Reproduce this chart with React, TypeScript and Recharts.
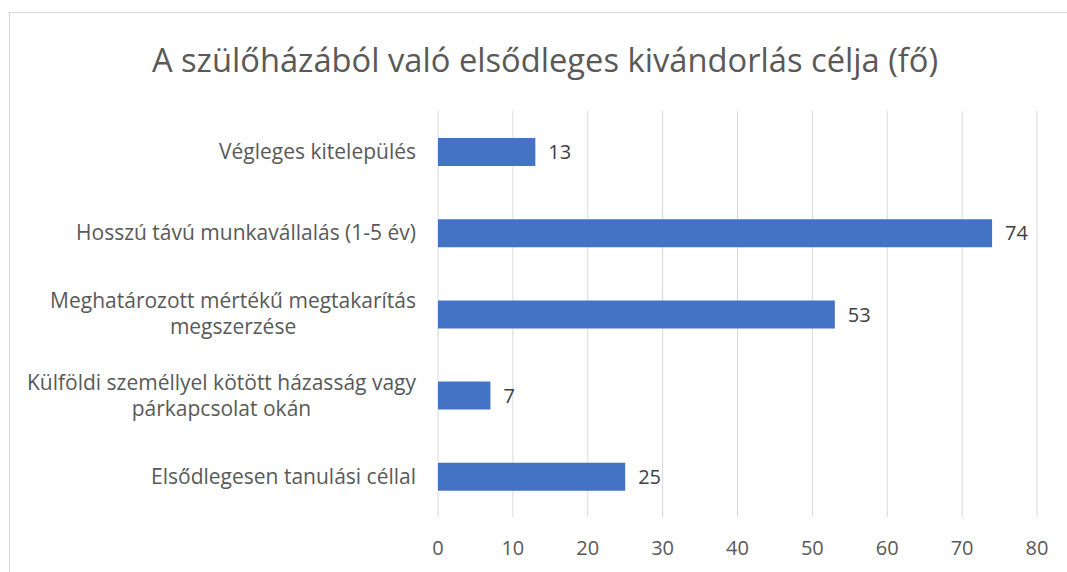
import React from "react"
import { BarChart, Bar, XAxis, YAxis, CartesianGrid, LabelList } from "recharts"

const categories = [
  "Végleges kitelepülés",
  "Hosszú távú munkavállalás (1-5 év)",
  "Meghatározott mértékű megtakarítás\nmegszerzése",
  "Külföldi személlyel kötött házasság vagy\npárkapcsolat okán",
  "Elsődlegesen tanulási céllal",
]
const values = [13, 74, 53, 7, 25]
const xTicks = [0, 10, 20, 30, 40, 50, 60, 70, 80]

const title = "A szülőházából való elsődleges kivándorlás célja (fő)"

const data = categories.map((name, i) => ({ name, value: values[i] }))

const FONT = "'Open Sans', sans-serif"
const LABEL_SIZE = 21
const NUM_SIZE = 20

let ctx: CanvasRenderingContext2D | null = null
function textWidth(s: string, size: number) {
  if (!ctx) ctx = document.createElement("canvas").getContext("2d")
  if (!ctx) return s.length * size * 0.5
  ctx.font = `${size}px 'Open Sans'`
  return ctx.measureText(s).width
}

function CategoryTick({ x, y, payload }: any) {
  const lines: string[] = String(payload.value).split("\n")
  const lh = 26
  if (lines.length === 1) {
    return (
      <text x={x} y={y} dy="0.35em" textAnchor="end" fontSize={LABEL_SIZE} fill="#595959" fontFamily={FONT}>
        {lines[0]}
      </text>
    )
  }
  const w = Math.max(...lines.map((l) => textWidth(l, LABEL_SIZE)))
  const cx = x - w / 2
  const top = y - ((lines.length - 1) * lh) / 2
  return (
    <text textAnchor="middle" fontSize={LABEL_SIZE} fill="#595959" fontFamily={FONT}>
      {lines.map((l, i) => (
        <tspan key={i} x={cx} y={top + i * lh} dy="0.35em">
          {l}
        </tspan>
      ))}
    </text>
  )
}

export default function App() {
  return (
    <div style={{ position: "absolute", left: 0, top: 0, width: 1067, height: 572, overflow: "hidden", background: "#fff" }}>
      <div
        style={{
          position: "absolute",
          left: 9,
          top: 12,
          width: 1100,
          height: 600,
          border: "1px solid #d9d9d9",
        }}
      />
      <div
        style={{
          position: "absolute",
          left: 0,
          top: 38,
          width: 1090,
          textAlign: "center",
          fontFamily: FONT,
          fontSize: 32.7,
          color: "#595959",
          lineHeight: "44px",
        }}
      >
        {title}
      </div>
      <div style={{ position: "absolute", left: 0, top: 0 }}>
        <BarChart
          width={1067}
          height={572}
          data={data}
          layout="vertical"
          margin={{ top: 111, right: 30, bottom: 25, left: 20 }}
          barSize={28}
        >
          <CartesianGrid horizontal={false} stroke="#d9d9d9" strokeWidth={1} />
          <XAxis
            type="number"
            domain={[0, 80]}
            ticks={xTicks}
            axisLine={false}
            tickLine={false}
            tickMargin={18}
            tick={{ fontSize: NUM_SIZE, fill: "#595959", fontFamily: FONT }}
          />
          <YAxis
            type="category"
            dataKey="name"
            width={418}
            axisLine={false}
            tickLine={false}
            tickMargin={16}
            tick={<CategoryTick />}
          />
          <Bar dataKey="value" fill="#4472C4" isAnimationActive={false}>
            <LabelList dataKey="value" position="right" offset={13} fontSize={NUM_SIZE} fill="#404040" fontFamily={FONT} />
          </Bar>
        </BarChart>
      </div>
    </div>
  )
}
